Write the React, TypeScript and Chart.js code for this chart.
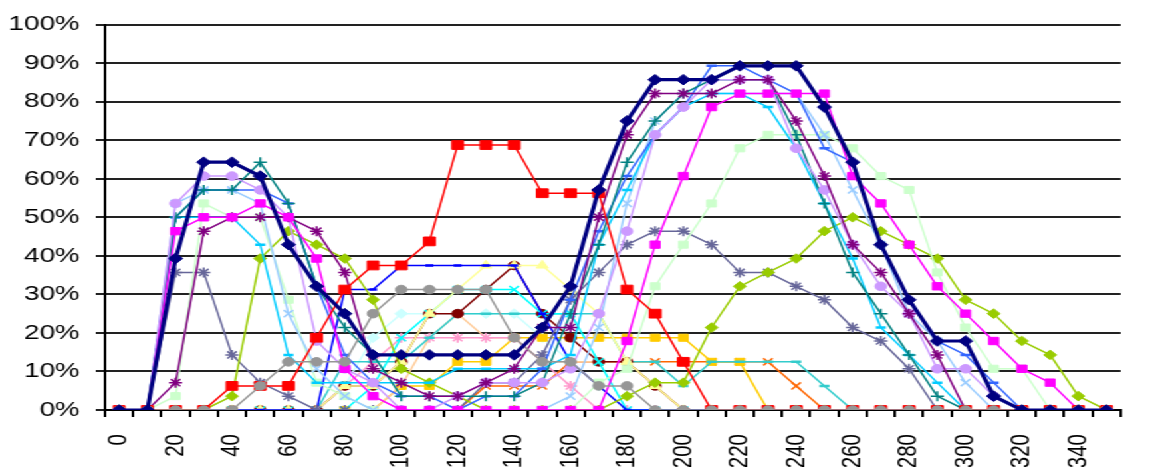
import React, { useEffect, useRef } from 'react';
import { Chart, registerables } from 'chart.js';

Chart.register(...registerables);

const categories = ['0','10','20','30','40','50','60','70','80','90','100','110','120','130','140','150','160','170','180','190','200','210','220','230','240','250','260','270','280','290','300','310','320','330','340','350'];
const tickLabels = ['0','20','40','60','80','100','120','140','160','180','200','220','240','260','280','300','320','340'];
const yTicks = [0,10,20,30,40,50,60,70,80,90,100];

const navy = [0,0,39.3,64.3,64.3,60.7,42.9,32.1,25,14.3,14.3,14.3,14.3,14.3,14.3,21.4,32.1,57.1,75,85.7,85.7,85.7,89.3,89.3,89.3,78.6,64.3,42.9,28.6,17.9,17.9,3.6,0,0,0,0];
const magenta = [0,0,46.4,50,50,53.6,50,39.3,10.7,3.6,0,0,0,0,0,0,0,0,17.9,42.9,60.7,78.6,82.1,82.1,82.1,82.1,60.7,53.6,42.9,32.1,25,17.9,10.7,7.1,0,0];
const red = [0,0,0,0,6.25,6.25,6.25,18.75,31.25,37.5,37.5,43.75,68.75,68.75,68.75,56.25,56.25,56.25,31.25,25,12.5,0,0,0,0,0,0,0,0,0,0,0,0,0,0,0];
const purple = [0,0,7.1,46.4,50,50,50,46.4,35.7,10.7,7.1,3.6,3.6,7.1,10.7,21.4,21.4,50,71.4,82.1,82.1,82.1,85.7,85.7,75,60.7,42.9,35.7,25,14.3,0,0,0,0,0,0];
const lavender = [0,0,53.6,60.7,60.7,57.1,50,17.9,10.7,7.1,0,0,3.6,7.1,7.1,7.1,10.7,25,46.4,71.4,78.6,85.7,85.7,85.7,67.9,57.1,42.9,32.1,25,10.7,10.7,3.6,0,0,0,0];
const teal = [0,0,50,57.1,57.1,64.3,53.6,32.1,21.4,14.3,3.6,3.6,3.6,3.6,3.6,7.1,25,42.9,64.3,75,82.1,85.7,85.7,85.7,71.4,53.6,35.7,25,14.3,3.6,0,0,0,0,0,0];
const blueDash = [0,0,50,57.1,57.1,57.1,53.6,32.1,14.3,7.1,3.6,3.6,0,3.6,3.6,10.7,28.6,46.4,60.7,71.4,78.6,89.3,89.3,85.7,82.1,67.9,64.3,42.9,28.6,17.9,14.3,7.1,0,0,0,0];
const skyDash = [0,0,50,50,50,42.9,14.3,7.1,7.1,7.1,7.1,7.1,10.7,10.7,10.7,10.7,14.3,42.9,57.1,71.4,78.6,82.1,82.1,78.6,67.9,53.6,39.3,21.4,14.3,7.1,0,0,0,0,0,0];
const paleBlue = [0,0,53.6,57.1,57.1,53.6,25,10.7,3.6,0,0,0,0,0,0,0,3.6,21.4,53.6,75,82.1,82.1,82.1,82.1,82.1,71.4,57.1,42.9,25,17.9,7.1,0,0,0,0,0];
const lightGreen = [0,0,3.6,53.6,50,50,28.6,7.1,3.6,0,0,0,0,0,0,0,0,7.1,10.7,32.1,42.9,53.6,67.9,71.4,71.4,71.4,67.9,60.7,57.1,35.7,21.4,10.7,10.7,0,0,0];
const lime = [0,0,0,0,3.6,39.3,46.4,42.9,39.3,28.6,10.7,7.1,3.6,0,0,0,0,0,3.6,7.1,7.1,21.4,32.1,35.7,39.3,46.4,50,46.4,42.9,39.3,28.6,25,17.9,14.3,3.6,0];
const blueGray = [0,0,35.7,35.7,14.3,7.1,3.6,0,0,0,0,0,0,7.1,7.1,14.3,28.6,35.7,42.9,46.4,46.4,42.9,35.7,35.7,32.1,28.6,21.4,17.9,10.7,0,0,0,0,0,0,0];
const gray = [0,0,0,0,0,6.25,12.5,12.5,12.5,25,31.25,31.25,31.25,31.25,18.75,12.5,12.5,6.25,6.25,0,0,0,0,0,0,0,0,0,0,0,0,0,0,0,0,0];
const blue = [0,0,0,0,0,0,0,0,31.25,31.25,37.5,37.5,37.5,37.5,37.5,25,12.5,6.25,0,0,0,0,0,0,0,0,0,0,0,0,0,0,0,0,0,0];
const yellow = [0,0,0,0,0,0,0,0,6.25,6.25,12.5,25,31.25,37.5,37.5,37.5,31.25,25,12.5,6.25,0,0,0,0,0,0,0,0,0,0,0,0,0,0,0,0];
const cyan = [0,0,0,0,0,0,0,0,0,6.25,18.75,25,31.25,31.25,31.25,25,25,12.5,0,0,0,0,0,0,0,0,0,0,0,0,0,0,0,0,0,0];
const darkRed = [0,0,0,0,0,0,0,0,6.25,6.25,12.5,25,25,31.25,37.5,25,18.75,12.5,12.5,6.25,0,0,0,0,0,0,0,0,0,0,0,0,0,0,0,0];
const aqua = [0,0,0,0,0,0,0,0,12.5,12.5,12.5,18.75,25,25,25,25,25,25,12.5,12.5,6.25,12.5,12.5,12.5,12.5,6.25,0,0,0,0,0,0,0,0,0,0];
const rose = [0,0,0,0,0,0,0,0,6.25,12.5,18.75,18.75,18.75,18.75,18.75,12.5,6.25,0,0,0,0,0,0,0,0,0,0,0,0,0,0,0,0,0,0,0];
const tan = [0,0,0,0,0,0,0,0,0,0,6.25,18.75,25,18.75,18.75,12.5,12.5,12.5,12.5,6.25,0,0,0,0,0,0,0,0,0,0,0,0,0,0,0,0];
const gold = [0,0,0,0,0,0,0,0,0,0,6.25,6.25,12.5,12.5,18.75,18.75,18.75,18.75,18.75,18.75,18.75,12.5,12.5,0,0,0,0,0,0,0,0,0,0,0,0,0];
const orange = [0,0,0,0,0,0,0,0,0,0,0,0,0,6.25,6.25,6.25,12.5,12.5,12.5,12.5,12.5,12.5,12.5,12.5,6.25,0,0,0,0,0,0,0,0,0,0,0];
const lightCyan = [0,0,0,0,0,0,0,0,6.25,18.75,25,25,25,25,25,18.75,12.5,6.25,0,0,0,0,0,0,0,0,0,0,0,0,0,0,0,0,0,0];

type S = { data: number[]; color: string; style: string; r: number; w?: number; pw?: number };

const series: S[] = [
  { data: navy, color: '#000080', style: 'rectRot', r: 5.3, w: 3.2 },
  { data: gray, color: '#969696', style: 'circle', r: 4.3 },
  { data: red, color: '#FF0000', style: 'rect', r: 6.2 },
  { data: magenta, color: '#FF00FF', style: 'rect', r: 5.2 },
  { data: purple, color: '#800080', style: 'star', r: 5, pw: 1.5 },
  { data: lavender, color: '#CC99FF', style: 'circle', r: 4.3 },
  { data: teal, color: '#008080', style: 'cross', r: 5, pw: 1.5 },
  { data: blueDash, color: '#3366FF', style: 'line', r: 3.8, pw: 2.5 },
  { data: skyDash, color: '#00CCFF', style: 'line', r: 3.8, pw: 2.5 },
  { data: paleBlue, color: '#99CCFF', style: 'crossRot', r: 5, pw: 1.5 },
  { data: lightGreen, color: '#CCFFCC', style: 'rect', r: 5 },
  { data: lime, color: '#99CC00', style: 'rectRot', r: 4.8 },
  { data: blueGray, color: '#666699', style: 'star', r: 5, pw: 1.5 },
  { data: blue, color: '#0000FF', style: 'line', r: 3, pw: 2.5 },
  { data: yellow, color: '#FFFF99', style: 'triangle', r: 5.2 },
  { data: cyan, color: '#00FFFF', style: 'crossRot', r: 5, pw: 1.5 },
  { data: darkRed, color: '#800000', style: 'circle', r: 4.3 },
  { data: aqua, color: '#33CCCC', style: 'line', r: 3.8, pw: 2.5 },
  { data: rose, color: '#FF99CC', style: 'star', r: 5, pw: 1.5 },
  { data: tan, color: '#FFCC99', style: 'circle', r: 0.1 },
  { data: gold, color: '#FFCC00', style: 'rect', r: 5 },
  { data: orange, color: '#FF6600', style: 'crossRot', r: 5, pw: 1.5 },
  { data: lightCyan, color: '#CCFFFF', style: 'rectRot', r: 4.8 },
];

const STRETCH = 1.3295;
const INNER_W = 874;
const H = 467;

export default function App() {
  const ref = useRef<HTMLCanvasElement | null>(null);
  useEffect(() => {
    if (!ref.current) return;
    const chart = new Chart(ref.current, {
      type: 'line',
      data: {
        labels: categories,
        datasets: series.map((s, i) => ({
          label: 'S' + (i + 1),
          data: s.data,
          borderColor: s.color,
          backgroundColor: s.color,
          borderWidth: s.w ?? 1.5,
          pointStyle: s.style as any,
          pointRadius: s.r,
          pointBackgroundColor: s.color,
          pointBorderColor: s.color,
          pointBorderWidth: s.pw ?? 1,
          tension: 0,
          fill: false,
        })),
      },
      options: {
        animation: false,
        responsive: true,
        maintainAspectRatio: false,
        devicePixelRatio: 1,
        layout: { padding: { top: 22, right: 0, left: 0, bottom: 0 } },
        plugins: { legend: { display: false }, tooltip: { enabled: false } },
        elements: { line: { borderJoinStyle: 'round' } },
        scales: {
          x: {
            type: 'category',
            offset: true,
            grid: { offset: true, drawOnChartArea: false, drawTicks: true, tickLength: 7, color: '#000', lineWidth: 2 },
            border: { display: true, color: '#000', width: 2 },
            ticks: {
              autoSkip: false,
              maxRotation: 90,
              minRotation: 90,
              padding: 17,
              color: '#000',
              font: { family: "'Liberation Sans', Arial, sans-serif", size: 20.5 },
              callback: (_v: any, idx: number) => (tickLabels.includes(categories[idx]) ? categories[idx] : ''),
            },
            afterFit: (scale: any) => { scale.height = 57; },
          },
          y: {
            min: 0,
            max: 100,
            grid: { color: '#222', lineWidth: 2, tickLength: 7 },
            border: { display: true, color: '#000', width: 2 },
            ticks: {
              stepSize: 10,
              padding: 12,
              color: '#000',
              font: { family: "'Liberation Sans', Arial, sans-serif", size: 21 },
              callback: (v: any) => (yTicks.includes(Number(v)) ? v + '%' : ''),
            },
            afterFit: (scale: any) => { scale.width = 79; },
          },
        },
      },
    });
    return () => chart.destroy();
  }, []);
  return (
    <div
      style={{
        position: 'fixed',
        left: 0,
        top: 0,
        width: INNER_W,
        height: H,
        transform: `scaleX(${STRETCH})`,
        transformOrigin: '0 0',
        background: '#fff',
      }}
    >
      <canvas ref={ref} />
    </div>
  );
}
